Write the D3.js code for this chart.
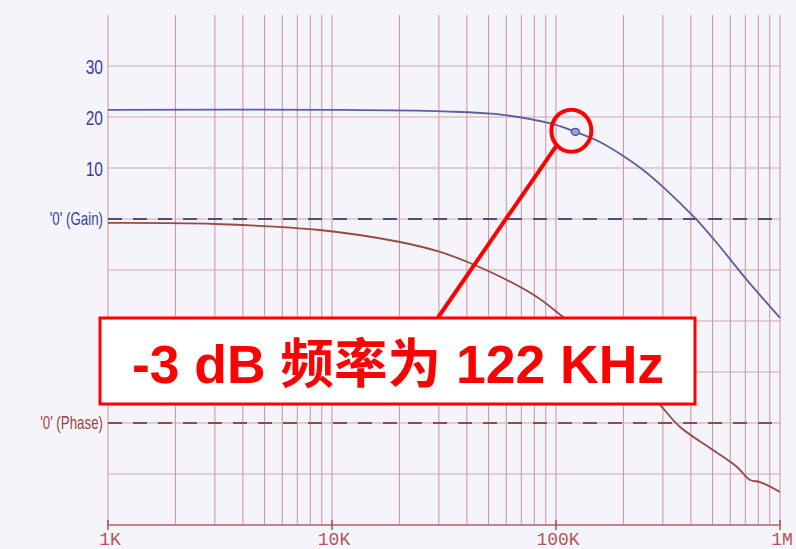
<!DOCTYPE html>
<html>
<head>
<meta charset="utf-8">
<script src="https://cdn.jsdelivr.net/npm/d3@7"></script>
<style>
  html, body { margin: 0; padding: 0; background: #f4f4fa; }
  svg { display: block; }
</style>
</head>
<body>
<svg id="chart" width="796" height="549"></svg>
<script>
// ---- data ----
const gainFreq = [1000, 10000, 31600, 56000, 97000, 122000, 157000, 199000, 245000, 300000, 358000, 426000, 523000, 617000, 713000, 1000000];
const gainDb   = [21.4, 21.4, 21.1, 20.5, 18.6, 17.1, 15.1, 12.4, 9.6, 6.3, 3.1, -0.2, -4.7, -8.6, -12.0, -19.4];

const phaseFreq = [1000, 3000, 8800, 20100, 30400, 41300, 58000, 82200, 107500, 157000, 214000, 291000, 358000, 502000, 643000, 735000, 814000, 1000000];
const phaseDeg  = [176.5, 175.6, 170.3, 159.7, 150.9, 141.2, 127.9, 111.2, 93.5, 66.2, 41.5, 15.9, -3.5, -23.8, -38.8, -50.3, -52.1, -60.9];

const gainTickValues = [30, 20, 10];
const gainTickLabels = ["30", "20", "10"];
const gainZeroLabel = "'0' (Gain)";
const phaseZeroLabel = "'0' (Phase)";
const freqTickValues = [1e3, 1e4, 1e5, 1e6];
const freqTickLabels = ["1K", "10K", "100K", "1M"];

const cutoffFreq = 122000;
const cutoffGain = 17.1;
const calloutText = "-3 dB 频率为 122 KHz";

// ---- layout ----
const L = 108, R = 780, T = 15, B = 525;
const svg = d3.select("#chart");

const x = d3.scaleLog().domain([1e3, 1e6]).range([L, R]);
const yG = d3.scaleLinear().domain([-60, 40]).range([B, T]);
const yP = d3.scaleLinear().domain([-90, 360]).range([B, T]);

svg.append("rect").attr("width", 796).attr("height", 549).attr("fill", "#f4f4fa");

const grid = svg.append("g");
grid.selectAll("line.v").data(x.ticks()).join("line")
  .attr("x1", d => x(d)).attr("x2", d => x(d))
  .attr("y1", T).attr("y2", B)
  .attr("stroke", "#d09aa2").attr("stroke-width", 1.1);
grid.selectAll("line.h").data(d3.range(-60, 31, 10)).join("line")
  .attr("x1", L).attr("x2", R)
  .attr("y1", d => yG(d)).attr("y2", d => yG(d))
  .attr("stroke", "#d6a2aa").attr("stroke-width", 1.1);
grid.append("line").attr("x1", L).attr("x2", R).attr("y1", B).attr("y2", B)
  .attr("stroke", "#b57070").attr("stroke-width", 1.3);
grid.selectAll("line.t").data(freqTickValues).join("line")
  .attr("x1", d => x(d)).attr("x2", d => x(d))
  .attr("y1", B - 5).attr("y2", B + 5)
  .attr("stroke", "#a05050").attr("stroke-width", 1.5);

svg.append("line").attr("x1", L).attr("x2", R).attr("y1", yG(0)).attr("y2", yG(0))
  .attr("stroke", "#4d5078").attr("stroke-width", 2.2).attr("stroke-dasharray", "14,11");
svg.append("line").attr("x1", L).attr("x2", R).attr("y1", yP(0)).attr("y2", yP(0))
  .attr("stroke", "#8a4e50").attr("stroke-width", 2).attr("stroke-dasharray", "14,11");

const gainLine = d3.line().x(d => x(d[0])).y(d => yG(d[1])).curve(d3.curveCatmullRom.alpha(0.5));
const phaseLine = d3.line().x(d => x(d[0])).y(d => yP(d[1])).curve(d3.curveCatmullRom.alpha(0.5));

svg.append("path").datum(d3.zip(phaseFreq, phaseDeg))
  .attr("d", phaseLine).attr("fill", "none")
  .attr("stroke", "#9a4a42").attr("stroke-width", 1.8);
svg.append("path").datum(d3.zip(gainFreq, gainDb))
  .attr("d", gainLine).attr("fill", "none")
  .attr("stroke", "#5a5fa2").attr("stroke-width", 1.8);

// y labels (condensed look)
const labFont = "'Liberation Sans', Arial, sans-serif";
function yLabel(y, txt, size, color) {
  svg.append("text")
    .attr("transform", `translate(103,${y}) scale(0.74,1)`)
    .attr("dy", "0.36em")
    .attr("text-anchor", "end").attr("font-family", labFont).attr("font-size", size)
    .attr("fill", color).text(txt);
}
gainTickValues.forEach((v, i) => yLabel(yG(v), gainTickLabels[i], 21, "#34449a"));
yLabel(yG(0), gainZeroLabel, 18, "#34449a");
yLabel(yP(0), phaseZeroLabel, 18, "#a0453e");

// x labels
svg.selectAll("text.x").data(freqTickValues).join("text")
  .attr("x", d => x(d) + 2).attr("y", 545)
  .attr("text-anchor", "middle").attr("font-family", "'Liberation Mono', 'DejaVu Sans Mono', monospace")
  .attr("font-size", 18).attr("fill", "#b45656")
  .text((d, i) => freqTickLabels[i]);

// cutoff marker
const cx = x(cutoffFreq), cy = yG(cutoffGain);
svg.append("ellipse").attr("cx", cx).attr("cy", cy).attr("rx", 4).attr("ry", 3.5)
  .attr("fill", "#9aa0d8").attr("stroke", "#4a4f9a").attr("stroke-width", 1.3);

// callout
const ann = svg.append("g");
ann.append("line").attr("x1", cx - 19).attr("y1", cy + 14).attr("x2", 437).attr("y2", 319)
  .attr("stroke", "#ff0000").attr("stroke-width", 4);
ann.append("ellipse").attr("cx", cx - 4).attr("cy", cy - 1).attr("rx", 20).attr("ry", 21)
  .attr("fill", "none").attr("stroke", "#ff0000").attr("stroke-width", 4);
ann.append("rect").attr("x", 100).attr("y", 318).attr("width", 595).attr("height", 86)
  .attr("fill", "#ffffff").attr("stroke", "#ff0000").attr("stroke-width", 3);
ann.append("text").attr("x", 398).attr("y", 383).attr("text-anchor", "middle")
  .attr("font-family", "'Liberation Sans', Arial, 'Noto Sans CJK SC', sans-serif")
  .attr("font-weight", "bold").attr("font-size", 53.5).attr("fill", "#ff0000")
  .text(calloutText);
</script>
</body>
</html>
